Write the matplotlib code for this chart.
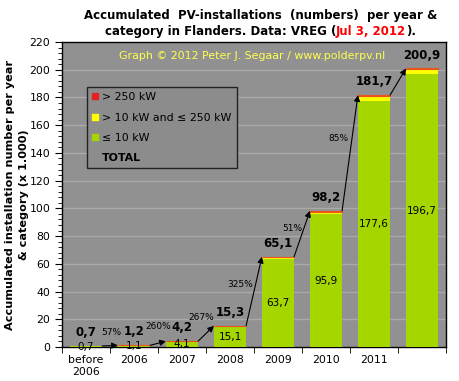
import matplotlib
matplotlib.use("Agg")
import matplotlib.pyplot as plt
from matplotlib.lines import Line2D
from matplotlib.ticker import MultipleLocator, FixedLocator

# DATA (x 1.000 installations)
years = ["before\n2006", "2006", "2007", "2008", "2009", "2010", "2011", ""]
small = [0.7, 1.1, 4.1, 15.1, 63.7, 95.9, 177.6, 196.7]      # <= 10 kW
medium = [0.0, 0.1, 0.1, 0.15, 1.0, 1.8, 3.5, 3.6]            # > 10 kW and <= 250 kW
large = [0.0, 0.0, 0.0, 0.05, 0.4, 0.5, 0.6, 0.6]             # > 250 kW
totals = [0.7, 1.2, 4.2, 15.3, 65.1, 98.2, 181.7, 200.9]
growth = ["57%", "260%", "267%", "325%", "51%", "85%"]
growth_pos = [(0.52, 10.8), (1.5, 15.1), (2.4, 21.6), (3.21, 45.4), (4.29, 85.8), (5.25, 150.7)]

GREEN = "#a6d600"
YELLOW = "#ffff00"
RED = "#e52222"
BG = "#919191"

def fmt(v):
    return ("%.1f" % v).replace(".", ",")

fig = plt.figure(figsize=(4.59, 3.81), dpi=100)
ax = fig.add_axes([62/459, 1-347/381, 384/459, 305/381])
ax.set_facecolor(BG)

x = list(range(len(years)))
w = 0.67
bottoms2 = [s + m for s, m in zip(small, medium)]
edge_w = [0] + [0.8] * (len(x) - 1)
ax.bar(x, small, w, color=GREEN, zorder=3)
ax.bar(x, medium, w, bottom=small, color=YELLOW, zorder=3)
ax.bar(x, large, w, bottom=bottoms2, color=RED, edgecolor="#e8541c", linewidth=edge_w, zorder=3)

# labels inside and on top
for i in x:
    ax.text(i, small[i]/2, fmt(small[i]), ha="center", va="center", fontsize=7.5, zorder=5)
    ax.annotate(fmt(totals[i]), (i, totals[i]), xytext=(0, 5), textcoords="offset points",
                ha="center", va="bottom", fontsize=8.5, fontweight="bold", zorder=5)

# growth arrows
for i in range(len(x)-1):
    ax.annotate("", xy=(i+1-w/2, totals[i+1]), xytext=(i+w/2, totals[i]),
                arrowprops=dict(arrowstyle="-|>", color="black", lw=0.8, mutation_scale=9,
                                shrinkA=0, shrinkB=0), zorder=6)
for g, (gx, gy) in zip(growth, growth_pos):
    ax.text(gx, gy, g, ha="center", va="center", fontsize=6.5, zorder=6)

ax.set_xlim(-0.5, 7.5)
ax.set_ylim(0, 220)
ax.yaxis.set_major_locator(MultipleLocator(20))
ax.yaxis.set_minor_locator(MultipleLocator(4))
ax.set_xticks(x)
ax.set_xticklabels(years, fontsize=7.8)
ax.xaxis.set_minor_locator(FixedLocator([i + 0.5 for i in range(-1, 8)]))
ax.tick_params(axis="x", which="major", length=0, pad=6)
ax.tick_params(axis="x", which="minor", length=4, direction="out")
ax.tick_params(axis="y", which="major", length=5, direction="out", labelsize=7.8)
ax.tick_params(axis="y", which="minor", length=3, direction="out")
ax.grid(axis="y", which="major", color="#a9a9a9", lw=1, zorder=0)
for s in ax.spines.values():
    s.set_color("black")
    s.set_linewidth(1)

ax.set_ylabel("Accumulated installation number per year\n& category (x 1.000)",
              fontsize=8.1, fontweight="bold", linespacing=1.45)
ax.yaxis.set_label_coords(-0.086, 0.5)

ax.text(0.495, 0.954, "Graph \u00a9 2012 Peter J. Segaar / www.polderpv.nl", transform=ax.transAxes,
        ha="center", va="center", fontsize=7.9, color="#ffff50", zorder=6)

handles = [Line2D([], [], marker="s", ls="none", ms=5, color=RED),
           Line2D([], [], marker="s", ls="none", ms=5, color=YELLOW),
           Line2D([], [], marker="s", ls="none", ms=5, color=GREEN),
           Line2D([], [], ls="none")]
labels = ["> 250 kW", "> 10 kW and \u2264 250 kW", "\u2264 10 kW", "TOTAL"]
leg = ax.legend(handles, labels, loc="upper left", bbox_to_anchor=(0.065, 0.852), fontsize=7.9,
                frameon=True, fancybox=False, edgecolor="#222222", facecolor="#8c8c8c",
                framealpha=1, handlelength=0.6, handletextpad=0.35, labelspacing=0.95,
                borderpad=0.45, borderaxespad=0)
leg.get_frame().set_linewidth(1)
leg.get_texts()[3].set_fontweight("bold")
leg.set_zorder(7)

# title, with the date in red
fig.text(0.567, 1-15/381, "Accumulated  PV-installations  (numbers)  per year &", ha="center",
         va="center", fontsize=8.5, fontweight="bold")
parts = [("category in Flanders. Data: VREG (", "black"), ("Jul 3, 2012", "red"), (").", "black")]
fig.canvas.draw()
r = fig.canvas.get_renderer()
texts = [fig.text(0, 1-31/381, p, ha="left", va="center", fontsize=8.5, fontweight="bold", color=c)
         for p, c in parts]
widths = [t.get_window_extent(r).width for t in texts]
start = 0.567*459 - sum(widths)/2
for t, wd in zip(texts, widths):
    t.set_x(start/459)
    start += wd

fig.savefig("out.png", dpi=100)
